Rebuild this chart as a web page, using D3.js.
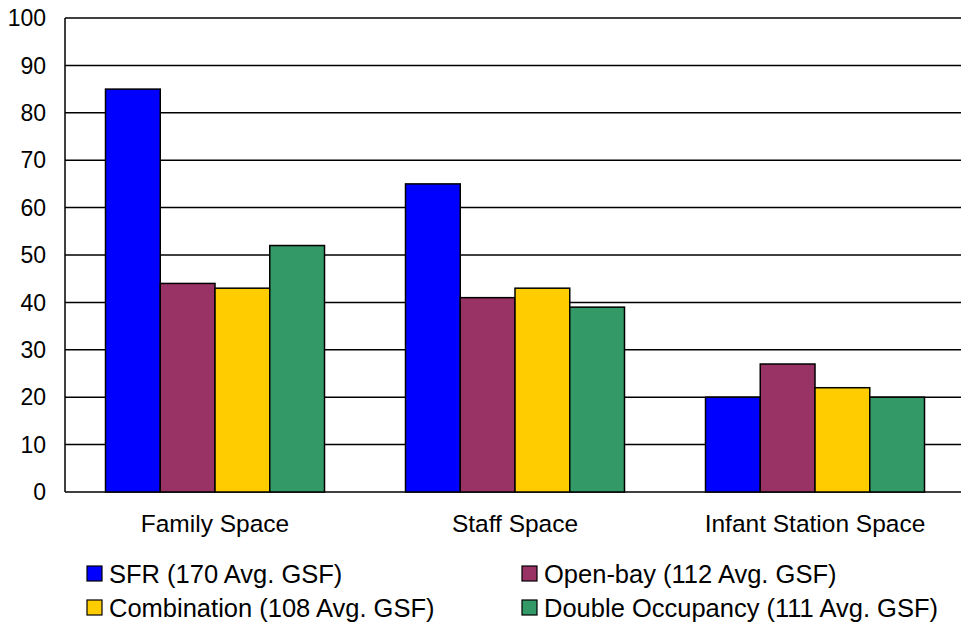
<!DOCTYPE html>
<html>
<head>
<meta charset="utf-8">
<script src="https://cdn.jsdelivr.net/npm/d3@7"></script>
<style>
  body { margin: 0; background: #fff; }
  text { font-family: Arial, "Liberation Sans", sans-serif; fill: #000; }
</style>
</head>
<body>
<script>
// chart data
var categories = ["Family Space", "Staff Space", "Infant Station Space"];
var seriesNames = ["SFR (170 Avg. GSF)", "Open-bay (112 Avg. GSF)", "Combination (108 Avg. GSF)", "Double Occupancy (111 Avg. GSF)"];
var seriesColors = ["#0000ff", "#993366", "#ffcc00", "#339966"];
var sfr = [85, 65, 20];
var openBay = [44, 41, 27];
var combination = [43, 43, 22];
var doubleOcc = [52, 39, 20];
var yTicks = [0, 10, 20, 30, 40, 50, 60, 70, 80, 90, 100];

var allSeries = [sfr, openBay, combination, doubleOcc];

var width = 961, height = 623;
var plot = {left: 65, right: 965, top: 18, bottom: 492};

var svg = d3.select("body").append("svg")
    .attr("width", width)
    .attr("height", height);

var yScale = d3.scaleLinear()
    .domain([0, 100])
    .range([plot.bottom, plot.top]);

var x0 = d3.scaleBand()
    .domain(categories)
    .range([plot.left, plot.right])
    .paddingInner(0.27)
    .paddingOuter(0.135);

var x1 = d3.scaleBand()
    .domain(d3.range(seriesNames.length))
    .range([0, x0.bandwidth()]);

// gridlines
svg.append("g")
    .selectAll("line")
    .data(yTicks)
    .enter().append("line")
    .attr("x1", plot.left)
    .attr("x2", width)
    .attr("y1", function(d) { return yScale(d); })
    .attr("y2", function(d) { return yScale(d); })
    .style("stroke", "#000")
    .style("stroke-width", "1.5px");

// left axis line
svg.append("line")
    .attr("x1", plot.left).attr("x2", plot.left)
    .attr("y1", plot.top).attr("y2", plot.bottom)
    .style("stroke", "#000")
    .style("stroke-width", "1.5px");

// y tick labels
svg.append("g")
    .selectAll("text")
    .data(yTicks)
    .enter().append("text")
    .attr("x", 46)
    .attr("y", function(d) { return yScale(d); })
    .attr("dy", "0.36em")
    .style("text-anchor", "end")
    .style("font-size", "23px")
    .text(function(d) { return d; });

// bars
var groups = svg.append("g")
    .selectAll("g")
    .data(categories)
    .enter().append("g")
    .attr("transform", function(d) { return "translate(" + x0(d) + ",0)"; });

groups.selectAll("rect")
    .data(function(d, i) { return allSeries.map(function(s, j) { return {s: j, v: s[i]}; }); })
    .enter().append("rect")
    .attr("x", function(d) { return x1(d.s); })
    .attr("width", x1.bandwidth())
    .attr("y", function(d) { return yScale(d.v); })
    .attr("height", function(d) { return plot.bottom - yScale(d.v); })
    .style("fill", function(d) { return seriesColors[d.s]; })
    .style("stroke", "#000")
    .style("stroke-width", "1.5px");

// category labels
svg.append("g")
    .selectAll("text")
    .data(categories)
    .enter().append("text")
    .attr("x", function(d) { return x0(d) + x0.bandwidth() / 2; })
    .attr("y", 532)
    .style("text-anchor", "middle")
    .style("font-size", "24.5px")
    .text(function(d) { return d; });

// legend
var legendPos = [[87, 566], [522, 566], [87, 600], [522, 600]];
var legend = svg.append("g")
    .selectAll("g")
    .data(seriesNames)
    .enter().append("g")
    .attr("transform", function(d, i) { return "translate(" + legendPos[i][0] + "," + legendPos[i][1] + ")"; });

legend.append("rect")
    .attr("width", 15)
    .attr("height", 15)
    .style("fill", function(d, i) { return seriesColors[i]; })
    .style("stroke", "#000")
    .style("stroke-width", "1.2px");

legend.append("text")
    .attr("x", 22)
    .attr("y", 7.5)
    .attr("dy", "0.36em")
    .style("font-size", "25.5px")
    .text(function(d) { return d; });
</script>
</body>
</html>
